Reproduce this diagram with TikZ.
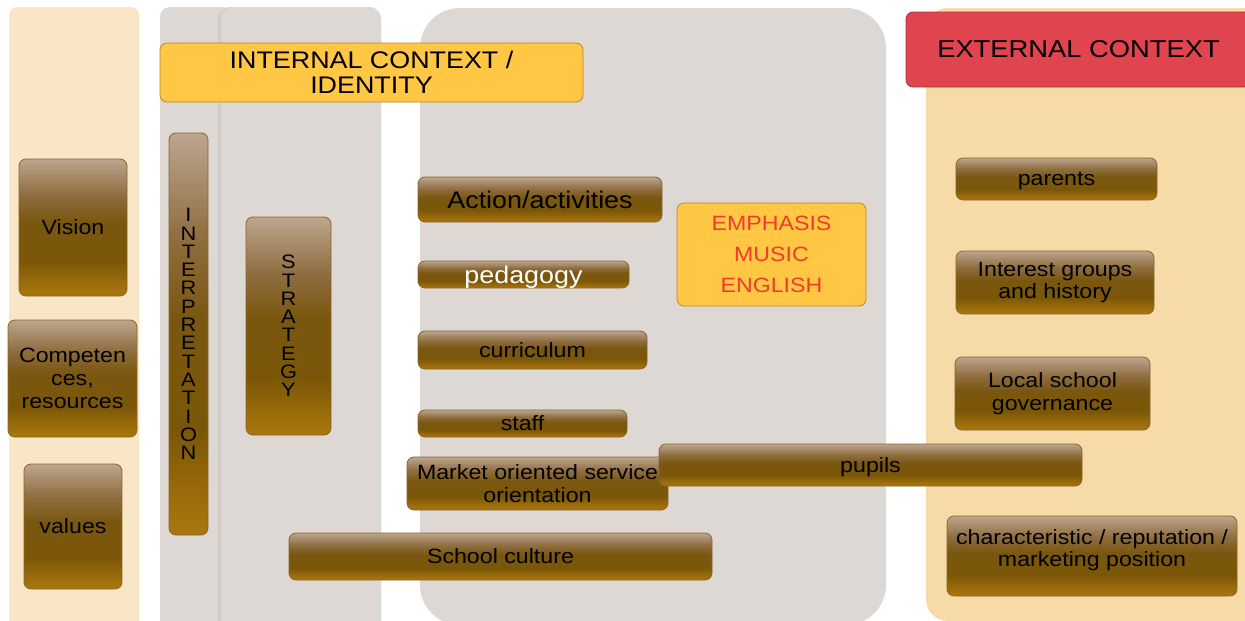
\documentclass[tikz,border=0pt]{standalone}
\usepackage{fontspec}
\setmainfont{Liberation Sans}[FakeStretch=1.12]
\usepackage{tikz}
\usetikzlibrary{positioning}

\definecolor{creamL}{HTML}{F8E6C6}
\definecolor{creamR}{HTML}{F6DAA8}
\definecolor{panel}{HTML}{DDD8D4}
\definecolor{gold}{HTML}{FFC743}
\definecolor{goldline}{HTML}{B8892C}
\definecolor{redbox}{HTML}{E0444E}
\definecolor{redline}{HTML}{A8343C}
\definecolor{redtext}{HTML}{F03C2C}
\definecolor{brownline}{HTML}{8A6428}

\pgfdeclareverticalshading{brownglass}{100bp}{
  rgb(0bp)=(0.66,0.47,0.06);
  rgb(25bp)=(0.66,0.47,0.06);
  rgb(29bp)=(0.62,0.43,0.04);
  rgb(38bp)=(0.48,0.34,0.03);
  rgb(52bp)=(0.48,0.34,0.06);
  rgb(62bp)=(0.56,0.43,0.25);
  rgb(75bp)=(0.74,0.65,0.56);
  rgb(100bp)=(0.74,0.65,0.56)}

\begin{document}
\begin{tikzpicture}[x=1pt,y=-1pt]
  \tikzstyle{tile}=[draw=brownline, line width=0.8pt, rounded corners=7pt, shading=brownglass,
    inner sep=0pt, align=center, font=\fontsize{20.7}{23}\selectfont]
  \tikzstyle{stack}=[tile, font=\fontsize{19.5}{18.3}\selectfont]
  \tikzstyle{goldbox}=[draw=goldline, line width=0.8pt, fill=gold, rounded corners=7pt,
    inner sep=0pt, align=center]

  \useasboundingbox (0,0) rectangle (1245,621);
  \clip (0,0) rectangle (1245,621);

  \fill[creamL, rounded corners=8pt] (9,7) rectangle (139,640);
  \fill[panel, rounded corners=10pt] (160,7) rectangle (232,640);
  \fill[panel!95!black, rounded corners=12pt] (218,7) rectangle (381,640);
  \fill[panel, rounded corners=12pt] (221,7) rectangle (381,640);
  \fill[panel, rounded corners=40pt] (420,8) rectangle (886,625);
  \fill[creamR, rounded corners=22pt] (926,8) rectangle (1270,621);

  \node[tile, minimum width=108, minimum height=137] (vis)  at (73,227.5)  {Vision};
  \node[tile, minimum width=129, minimum height=117] (comp) at (72.5,378.5) {Competen\\ces,\\resources};
  \node[tile, minimum width=98,  minimum height=125] (val)  at (73,526.5)  {values};

  \node[stack, minimum width=39, minimum height=402] (interp) at (188.5,334)
    {I\\N\\T\\E\\R\\P\\R\\E\\T\\A\\T\\I\\O\\N};
  \node[stack, minimum width=85, minimum height=218] (strat) at (288.5,326)
    {S\\T\\R\\A\\T\\E\\G\\Y};

  \node[goldbox, minimum width=423, minimum height=59, font=\fontsize{24}{25}\selectfont]
    (intctx) at (371.5,72.5) {INTERNAL CONTEXT /\\IDENTITY};

  \node[tile, minimum width=244, minimum height=45, font=\fontsize{24}{26}\selectfont]
    (act) at (540,199.5) {Action/activities};
  \node[tile, minimum width=211, minimum height=27, text depth=0pt, text=white,
    font=\fontsize{24}{26}\selectfont] (ped) at (523.5,274.5) {pedagogy};
  \node[tile, minimum width=229, minimum height=38] (curr)  at (532.5,350)   {curriculum};
  \node[tile, minimum width=209, minimum height=27] (staff) at (522.5,423.5) {staff};
  \node[tile, minimum width=261, minimum height=53] (mkt)   at (537.5,483.5) {Market oriented service\\orientation};
  \node[tile, minimum width=423, minimum height=42, text depth=0pt] (pup) at (870.5,465) {pupils};
  \node[tile, minimum width=423, minimum height=47] (cult)  at (500.5,556.5) {School culture};

  \node[goldbox, minimum width=189, minimum height=103, text=redtext, font=\fontsize{20.7}{31}\selectfont]
    (emph) at (771.5,254.5) {EMPHASIS\\MUSIC\\ENGLISH};

  \node[draw=redline, line width=0.8pt, fill=redbox, rounded corners=7pt, inner sep=0pt,
    minimum width=345, minimum height=75, font=\fontsize{24.4}{26}\selectfont]
    (extctx) at (1078.5,49.5) {EXTERNAL CONTEXT};

  \node[tile, minimum width=201, minimum height=42, text depth=0pt] (par) at (1056.5,179) {parents};
  \node[tile, minimum width=198, minimum height=63, font=\fontsize{20.7}{22}\selectfont]
    (intgr) at (1055,282.5) {Interest groups\\and history};
  \node[tile, minimum width=195, minimum height=73] (gov)  at (1052.5,393.5) {Local school\\governance};
  \node[tile, minimum width=290, minimum height=80, font=\fontsize{20.7}{22}\selectfont]
    (char) at (1092,556) {characteristic / reputation /\\marketing position\\[-6pt]};
\end{tikzpicture}
\end{document}
